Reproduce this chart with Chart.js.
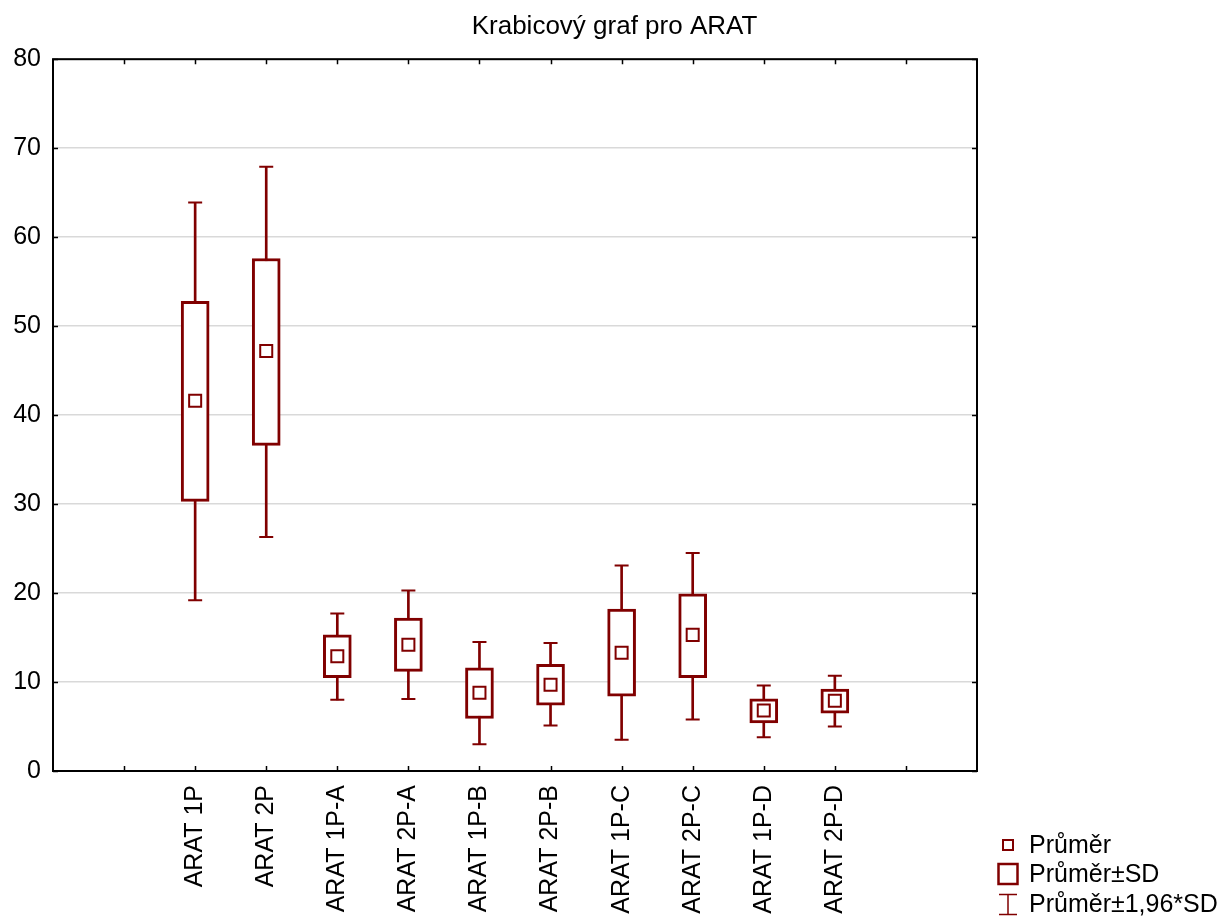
<!DOCTYPE html>
<html>
<head>
<meta charset="utf-8">
<title>Krabicový graf pro ARAT</title>
<script src="https://cdn.jsdelivr.net/npm/chart.js@4/dist/chart.umd.min.js"></script>
<style>
  body { margin: 0; background: #fff; }
</style>
</head>
<body>
<canvas id="boxplot" width="1229" height="922"></canvas>
<script>
var categories = ["ARAT 1P", "ARAT 2P", "ARAT 1P-A", "ARAT 2P-A", "ARAT 1P-B",
                  "ARAT 2P-B", "ARAT 1P-C", "ARAT 2P-C", "ARAT 1P-D", "ARAT 2P-D"];

// mean, mean±SD, mean±1.96*SD
var means  = [41.6, 47.2, 12.9, 14.2,  8.8,  9.7, 13.3, 15.3, 6.8, 7.9];
var sdLow  = [30.3, 36.6, 10.5, 11.2,  5.9,  7.4,  8.4, 10.5, 5.4, 6.5];
var sdHigh = [52.8, 57.6, 15.3, 17.2, 11.6, 12.0, 18.2, 19.9, 8.1, 9.2];
var ciLow  = [19.2, 26.3,  8.0,  8.1,  3.0,  5.1,  3.5,  5.8, 3.8, 5.0];
var ciHigh = [63.9, 67.9, 17.7, 20.3, 14.5, 14.4, 23.1, 24.5, 9.6, 10.7];

var yTicks = [0, 10, 20, 30, 40, 50, 60, 70, 80];
var legendLabels = ["Průměr", "Průměr±SD", "Průměr±1,96*SD"];

var red = "#800000";
var firstSlot = 2;   // categories sit on x = 2..11, axis runs 0..13

Chart.defaults.font.family = '"Liberation Sans", Arial, sans-serif';
Chart.defaults.color = "#000";

var boxData = categories.map(function (c, i) { return {x: i + firstSlot, y: [sdLow[i], sdHigh[i]]}; });
var whiskerData = categories.map(function (c, i) { return {x: i + firstSlot, y: [ciLow[i], ciHigh[i]]}; });
var meanData = categories.map(function (c, i) { return {x: i + firstSlot, y: means[i]}; });
var capData = [];
categories.forEach(function (c, i) {
    capData.push({x: i + firstSlot, y: ciLow[i]});
    capData.push({x: i + firstSlot, y: ciHigh[i]});
});

// frame with inside tick marks + legend
var framePlugin = {
    id: "frame",
    afterDraw: function (chart) {
        var ctx = chart.ctx, a = chart.chartArea;
        var xs = chart.scales.x, ys = chart.scales.y;
        ctx.save();
        ctx.strokeStyle = "#000";
        ctx.lineWidth = 1.5;
        ctx.beginPath();
        for (var v = 1; v <= 12; v++) {
            var px = Math.round(xs.getPixelForValue(v)) + 0.5;
            ctx.moveTo(px, a.bottom); ctx.lineTo(px, a.bottom - 5);
            ctx.moveTo(px, a.top); ctx.lineTo(px, a.top + 5);
        }
        yTicks.forEach(function (t) {
            var py = Math.round(ys.getPixelForValue(t)) + 0.5;
            ctx.moveTo(a.left, py); ctx.lineTo(a.left + 5, py);
            ctx.moveTo(a.right, py); ctx.lineTo(a.right - 5, py);
        });
        ctx.stroke();
        ctx.lineWidth = 2;
        ctx.strokeRect(a.left, a.top, a.right - a.left, a.bottom - a.top);

        // legend
        ctx.strokeStyle = red;
        ctx.fillStyle = "#000";
        ctx.font = '25px "Liberation Sans", Arial, sans-serif';
        ctx.textBaseline = "middle";
        var lx = 1008, tx = 1029;
        var rows = [845, 874, 904];
        ctx.lineWidth = 2;
        ctx.strokeRect(lx - 5, rows[0] - 5, 10, 10);
        ctx.lineWidth = 2.5;
        ctx.strokeRect(lx - 9.5, rows[1] - 10, 19, 20);
        ctx.lineWidth = 1.5;
        ctx.beginPath();
        ctx.moveTo(lx - 9, rows[2] - 9.5); ctx.lineTo(lx + 9, rows[2] - 9.5);
        ctx.moveTo(lx, rows[2] - 9.5); ctx.lineTo(lx, rows[2] + 10.5);
        ctx.moveTo(lx - 9, rows[2] + 10.5); ctx.lineTo(lx + 9, rows[2] + 10.5);
        ctx.stroke();
        legendLabels.forEach(function (t, i) { ctx.fillText(t, tx, rows[i] + 1); });
        ctx.restore();
    }
};

var config = {
    type: "bar",
    data: {
        datasets: [
            {
                type: "line", label: legendLabels[0], data: meanData, showLine: false,
                pointStyle: "rect", pointRadius: 8.5, pointBorderWidth: 2,
                pointBackgroundColor: "#fff", pointBorderColor: red, order: 0
            },
            {
                label: legendLabels[1], data: boxData, barThickness: 28, grouped: false,
                backgroundColor: "#fff", borderColor: red, borderWidth: 3,
                borderSkipped: false, order: 1
            },
            {
                type: "line", label: "caps", data: capData, showLine: false,
                pointStyle: "line", pointRadius: 7, pointBorderWidth: 2,
                pointBorderColor: red, order: 2
            },
            {
                label: legendLabels[2], data: whiskerData, barThickness: 2, grouped: false,
                backgroundColor: red, borderWidth: 0, order: 3
            }
        ]
    },
    options: {
        responsive: false,
        animation: false,
        layout: { padding: 0 },
        plugins: {
            legend: { display: false },
            tooltip: { enabled: false },
            title: {
                display: true,
                text: "Krabicový graf pro ARAT",
                color: "#000",
                font: { size: 26, weight: "normal" },
                padding: { top: 11, bottom: 17 }
            }
        },
        scales: {
            x: {
                type: "linear",
                min: 0, max: 13,
                offset: false,
                grid: { display: false, offset: false, drawTicks: false },
                border: { display: false },
                ticks: {
                    stepSize: 1,
                    autoSkip: false,
                    minRotation: 90, maxRotation: 90,
                    padding: 14,
                    font: { size: 25 },
                    color: "#000",
                    callback: function (v) {
                        var c = categories[v - firstSlot];
                        return c === undefined ? "" : c;
                    }
                },
                afterFit: function (s) { s.height = 151; }
            },
            y: {
                min: 0, max: 80,
                grid: { color: "#d9d9d9", lineWidth: 1.5, drawTicks: false },
                border: { display: false },
                ticks: { stepSize: 10, padding: 12, font: { size: 25 }, color: "#000" },
                afterFit: function (s) { s.width = 53; }
            },
            // empty right-hand axis that reserves the room used by the legend
            yRoom: {
                position: "right",
                min: 0, max: 80,
                grid: { display: false, drawTicks: false },
                border: { display: false },
                ticks: { display: false },
                afterFit: function (s) { s.width = 252; }
            }
        }
    },
    plugins: [framePlugin]
};

var boxChart = new Chart(document.getElementById("boxplot"), config);
</script>
</body>
</html>
